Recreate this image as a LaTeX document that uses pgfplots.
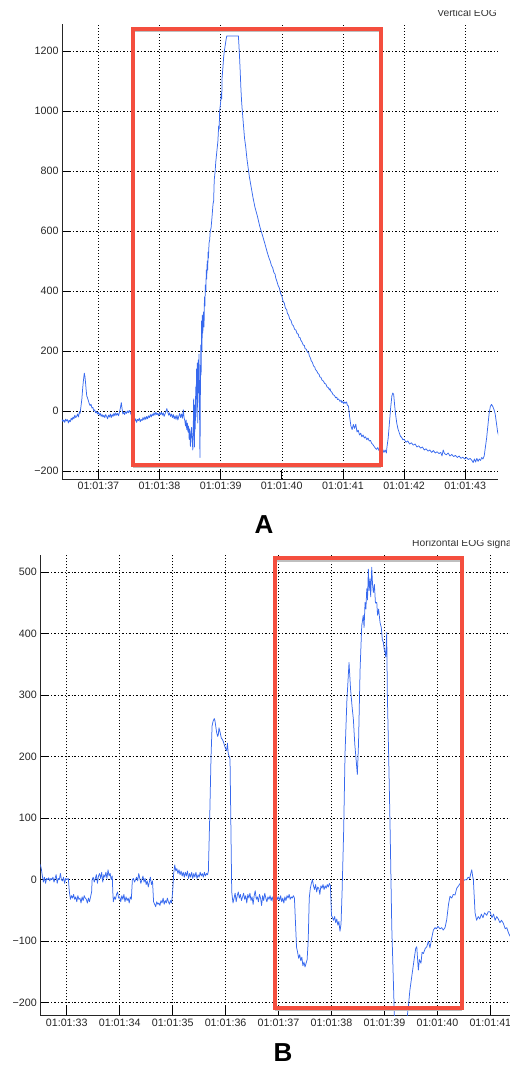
\documentclass[border=0pt]{standalone}
\usepackage{pgfplots}
\pgfplotsset{compat=1.18}
\usepackage{fontspec}
\setmainfont{Liberation Sans}
\definecolor{eogblue}{RGB}{55,105,238}
\definecolor{boxred}{RGB}{244,78,62}
\pgfplotsset{
 eog/.style={
  scale only axis,
  axis x line=bottom, axis y line=left,
  axis line style={black!85, line width=0.8pt, -},
  tick align=inside,
  major tick length=9pt,
  tick style={black, line width=0.7pt},
  xmajorgrids, ymajorgrids,
  x grid style={black, line width=0.55pt, dash pattern=on 0.8pt off 2.2pt},
  y grid style={black, line width=0.55pt, dash pattern=on 2pt off 2pt on 0.8pt off 2pt},
  tick label style={font=\fontsize{10.7}{12}\selectfont, text=black!85},
  /pgf/number format/assume math mode=true,
  clip mode=individual,
 },
 sig/.style={eogblue, line width=0.75pt, line join=round},
}
\begin{document}
\begin{tikzpicture}[x=1pt,y=1pt]
\useasboundingbox (0pt,0pt) rectangle (510pt,1066pt);
% ---------------- Panel A ----------------
\begin{axis}[eog,
  at={(62pt,587pt)}, anchor=south west,
  width=436pt, height=455pt,
  xmin=36.405, xmax=43.536, ymin=-226.7, ymax=1290,
  xtick={37,38,39,40,41,42,43},
  xticklabels={01:01:37,01:01:38,01:01:39,01:01:40,01:01:41,01:01:42,01:01:43},
  ytick={-200,0,200,400,600,800,1000,1200},
  yticklabels={−200,0,200,400,600,800,1000,1200},
]
\addplot[sig] table {
36.405 -28
36.42 -35
36.435 -30
36.45 -38
36.465 -27
36.48 -33
36.495 -29
36.51 -40
36.525 -31
36.54 -36
36.555 -24
36.57 -30
36.585 -20
36.60 -26
36.615 -14
36.63 -22
36.645 -18
36.66 -10
36.675 -20
36.69 -2
36.70 -8
36.715 15
36.73 40
36.745 80
36.76 110
36.77 126
36.78 115
36.79 95
36.80 70
36.81 50
36.82 45
36.835 35
36.85 25
36.865 18
36.88 22
36.895 10
36.91 12
36.925 0
36.94 4
36.955 -6
36.97 -2
36.985 -10
37.00 -4
37.015 -14
37.03 -8
37.045 -18
37.06 -12
37.075 -20
37.09 -14
37.105 -22
37.12 -12
37.135 -18
37.15 -26
37.165 -14
37.18 -20
37.195 -10
37.21 -22
37.225 -12
37.24 -18
37.255 -8
37.27 -16
37.285 -6
37.30 -14
37.315 -8
37.33 -16
37.345 -4
37.36 10
37.375 28
37.385 12
37.40 -10
37.415 -4
37.43 -12
37.445 -2
37.46 -8
37.475 0
37.49 -6
37.505 2
37.52 -4
37.535 -12
37.55 -20
37.565 -30
37.58 -22
37.595 -34
37.61 -26
37.625 -38
37.64 -28
37.655 -32
37.67 -24
37.685 -36
37.70 -28
37.715 -32
37.73 -22
37.745 -30
37.76 -20
37.775 -28
37.79 -18
37.805 -26
37.82 -16
37.835 -22
37.85 -12
37.865 -20
37.88 -10
37.895 -16
37.91 -6
37.925 -14
37.94 -4
37.955 -12
37.97 -8
37.985 -16
38.00 -6
38.015 -12
38.03 -4
38.045 -14
38.06 -6
38.075 -18
38.09 -10
38.105 -2
38.12 8
38.135 -4
38.15 -14
38.165 -6
38.18 -18
38.195 -10
38.21 -22
38.225 -12
38.24 -26
38.255 -16
38.27 -28
38.285 -14
38.30 -30
38.315 -18
38.33 -8
38.345 -22
38.36 -10
38.375 -24
38.39 4
38.40 -20
38.415 -34
38.425 -50
38.435 -30
38.445 -62
38.455 -40
38.465 -70
38.475 -50
38.485 -95
38.495 -60
38.505 -118
38.515 -80
38.525 -55
38.535 -100
38.545 -130
38.552 -60
38.558 40
38.565 -40
38.572 -120
38.578 20
38.585 -60
38.592 80
38.598 -20
38.605 140
38.612 40
38.618 160
38.625 -40
38.632 170
38.638 60
38.645 190
38.652 100
38.658 -100
38.662 -155
38.668 50
38.675 220
38.68 120
38.688 300
38.695 200
38.70 320
38.708 260
38.715 310
38.72 330
38.728 280
38.735 380
38.742 350
38.75 420
38.758 400
38.765 470
38.772 440
38.78 500
38.788 470
38.795 530
38.80 510
38.81 560
38.82 570
38.83 600
38.843 610
38.86 650
38.875 690
38.885 700
38.895 770
38.91 800
38.92 830
38.94 870
38.955 900
38.967 950
38.975 940
38.984 1000
39.00 1030
39.01 1060
39.018 1040
39.023 1110
39.035 1140
39.049 1180
39.06 1200
39.077 1222
39.09 1240
39.10 1250
39.29 1250
39.30 1215
39.31 1175
39.32 1130
39.33 1080
39.34 1040
39.35 1010
39.37 960
39.39 910
39.41 880
39.43 840
39.45 810
39.47 780
39.50 745
39.53 710
39.56 680
39.60 650
39.64 615
39.68 588
39.72 560
39.76 530
39.79 510
39.81 500
39.83 485
39.85 478
39.87 462
39.89 456
39.90 444
39.92 432
39.94 418
39.96 410
39.98 392
40.00 384
40.02 366
40.04 360
40.06 342
40.08 338
40.09 326
40.11 320
40.13 306
40.15 302
40.17 288
40.19 284
40.21 272
40.23 270
40.25 258
40.27 256
40.28 246
40.30 244
40.31 236
40.33 230
40.35 220
40.37 218
40.38 208
40.40 206
40.42 196
40.44 194
40.45 184
40.47 176
40.48 168
40.50 162
40.52 150
40.54 146
40.55 138
40.57 134
40.59 126
40.61 122
40.62 114
40.64 112
40.66 102
40.68 100
40.70 92
40.72 90
40.74 80
40.76 78
40.78 70
40.79 74
40.80 66
40.82 62
40.84 54
40.86 52
40.88 44
40.90 46
40.91 38
40.93 40
40.95 32
40.97 36
40.98 28
41.00 32
41.01 24
41.03 30
41.04 26
41.06 30
41.07 20
41.09 16
41.11 -20
41.13 -50
41.15 -62
41.17 -45
41.19 -58
41.21 -44
41.23 -70
41.25 -64
41.27 -80
41.29 -74
41.31 -86
41.33 -80
41.35 -90
41.37 -86
41.39 -96
41.41 -90
41.43 -100
41.45 -98
41.47 -108
41.49 -112
41.51 -118
41.53 -124
41.55 -128
41.57 -122
41.59 -132
41.61 -126
41.63 -136
41.65 -128
41.67 -138
41.69 -130
41.71 -140
41.72 -120
41.74 -90
41.76 -40
41.78 10
41.80 50
41.815 60
41.83 55
41.845 20
41.86 -10
41.88 -40
41.90 -60
41.92 -72
41.94 -84
41.96 -88
41.98 -96
42.00 -94
42.03 -104
42.06 -100
42.09 -110
42.12 -106
42.15 -114
42.18 -110
42.21 -120
42.24 -116
42.27 -124
42.30 -120
42.33 -130
42.36 -126
42.39 -134
42.42 -130
42.45 -138
42.48 -132
42.51 -140
42.54 -136
42.57 -142
42.60 -138
42.62 -150
42.64 -130
42.66 -142
42.69 -146
42.72 -140
42.75 -150
42.78 -145
42.81 -152
42.84 -148
42.87 -155
42.90 -150
42.93 -158
42.96 -154
42.99 -160
43.02 -155
43.05 -162
43.08 -158
43.11 -165
43.13 -172
43.15 -160
43.17 -170
43.19 -158
43.21 -168
43.23 -160
43.25 -165
43.27 -155
43.29 -160
43.31 -150
43.33 -120
43.35 -90
43.37 -50
43.39 -10
43.41 15
43.43 22
43.45 15
43.47 5
43.49 -10
43.51 -40
43.53 -70
43.55 -85
};
\draw[black!25, line width=2pt] ([yshift=-2.5pt]axis cs:37.574,-180) -- ([yshift=-2.5pt]axis cs:41.618,-180);
\draw[black!25, line width=2pt] ([yshift=-2.5pt]axis cs:37.574,1274.3) -- ([yshift=-2.5pt]axis cs:41.618,1274.3);
\draw[boxred, line width=4pt] (axis cs:37.574,-180) rectangle (axis cs:41.618,1274.3);
\end{axis}
\begin{scope}
\clip (380pt,1043pt) rectangle (510pt,1055pt);
\node[anchor=base east, inner sep=0, font=\fontsize{10.3}{12}\selectfont, text=black!80] at (497pt,1049.5pt) {Vertical EOG};
\end{scope}
\node[inner sep=0, font=\fontsize{26}{30}\selectfont\bfseries] at (264pt,541.5pt) {A};
% ---------------- Panel B ----------------
\begin{axis}[eog,
  at={(40.3pt,50.7pt)}, anchor=south west,
  width=469.7pt, height=460.3pt,
  xmin=32.501, xmax=41.371, ymin=-220.6, ymax=528,
  xtick={33,34,35,36,37,38,39,40,41},
  xticklabels={01:01:33,01:01:34,01:01:35,01:01:36,01:01:37,01:01:38,01:01:39,01:01:40,01:01:41},
  ytick={-200,-100,0,100,200,300,400,500},
  yticklabels={−200,−100,0,100,200,300,400,500},
]
\addplot[sig] table {
32.50 25
32.52 18
32.54 6
32.56 -4
32.58 4
32.60 -6
32.62 2
32.64 0
32.66 3
32.68 -2
32.70 2
32.72 0
32.74 4
32.76 -4
32.78 2
32.80 8
32.82 -6
32.84 2
32.86 0
32.88 10
32.90 0
32.92 -2
32.94 4
32.96 -6
32.98 2
33.00 0
33.03 2
33.05 -20
33.07 -32
33.09 -26
33.11 -30
33.13 -24
33.15 -32
33.17 -28
33.19 -36
33.21 -26
33.23 -32
33.25 -30
33.27 -38
33.29 -28
33.31 -34
33.33 -26
33.35 -30
33.37 -32
33.39 -38
33.41 -30
33.43 -36
33.45 -28
33.47 -20
33.48 0
33.50 4
33.52 -4
33.54 2
33.56 8
33.58 -6
33.60 6
33.62 10
33.64 2
33.66 12
33.68 -4
33.70 8
33.72 4
33.74 12
33.76 2
33.78 16
33.80 6
33.82 10
33.84 0
33.86 6
33.87 -20
33.88 -36
33.90 -28
33.92 -32
33.94 -24
33.96 -20
33.98 -30
34.00 -28
34.02 -36
34.04 -26
34.06 -32
34.08 -24
34.10 -36
34.12 -28
34.14 -34
34.16 -30
34.18 -38
34.20 -28
34.22 -32
34.24 0
34.26 2
34.28 -4
34.30 0
34.32 4
34.34 -2
34.36 10
34.38 2
34.40 -6
34.42 0
34.44 6
34.46 -4
34.48 2
34.50 -8
34.52 -2
34.54 -12
34.56 -4
34.58 4
34.60 -8
34.62 -2
34.64 -36
34.66 -40
34.68 -44
34.70 -36
34.72 -40
34.74 -38
34.76 -42
34.78 -34
34.80 -38
34.82 -30
34.84 -40
34.86 -34
34.88 -38
34.90 -30
34.92 -36
34.94 -40
34.96 -34
34.98 -38
35.00 -20
35.02 10
35.04 24
35.06 14
35.08 18
35.10 10
35.12 16
35.14 8
35.16 14
35.18 6
35.20 12
35.22 4
35.24 12
35.26 6
35.28 14
35.30 2
35.32 10
35.34 4
35.36 12
35.38 2
35.40 10
35.42 4
35.44 12
35.46 2
35.48 8
35.50 4
35.52 12
35.54 6
35.56 10
35.58 4
35.60 12
35.62 6
35.64 10
35.66 8
35.675 14
35.70 100
35.725 200
35.745 250
35.765 258
35.788 262
35.80 258
35.83 240
35.85 233
35.863 236
35.875 247
35.895 240
35.92 230
35.94 228
35.96 224
35.98 218
36.00 213
36.02 210
36.035 222
36.05 205
36.07 200
36.084 196
36.116 -20
36.14 -38
36.16 -30
36.18 -22
36.20 -36
36.22 -26
36.24 -20
36.26 -30
36.28 -24
36.30 -34
36.32 -28
36.34 -22
36.36 -32
36.38 -26
36.40 -38
36.42 -24
36.44 -30
36.46 -22
36.48 -34
36.50 -28
36.52 -40
36.54 -26
36.56 -18
36.58 -32
36.60 -28
36.62 -36
36.64 -24
36.66 -30
36.68 -42
36.70 -26
36.72 -34
36.74 -22
36.76 -30
36.78 -36
36.80 -28
36.82 -32
36.84 -26
36.86 -34
36.88 -28
36.90 -36
36.92 -30
36.94 -38
36.96 -26
36.98 -32
37.00 -28
37.02 -34
37.04 -26
37.06 -36
37.08 -30
37.10 -38
37.12 -28
37.14 -34
37.16 -26
37.18 -30
37.20 -24
37.22 -32
37.24 -28
37.26 -30
37.28 -26
37.30 -30
37.32 -70
37.34 -110
37.36 -118
37.38 -128
37.40 -122
37.42 -132
37.44 -126
37.46 -140
37.48 -134
37.50 -142
37.52 -136
37.54 -130
37.56 -100
37.58 -30
37.60 -14
37.62 -6
37.64 0
37.66 -10
37.68 -16
37.70 -8
37.72 -20
37.74 -12
37.76 -14
37.78 -24
37.80 -10
37.82 -14
37.84 -8
37.86 -16
37.88 -10
37.90 -14
37.92 -8
37.94 -12
37.96 -6
37.98 -10
38.00 -58
38.02 -62
38.04 -66
38.06 -60
38.08 -70
38.10 -64
38.12 -74
38.14 -68
38.16 -84
38.18 -72
38.20 -20
38.23 80
38.256 206
38.29 290
38.331 353
38.36 310
38.39 280
38.413 261
38.44 220
38.47 190
38.488 171
38.51 220
38.54 342
38.571 413
38.60 430
38.615 410
38.634 451
38.65 440
38.666 473
38.68 455
38.696 505
38.71 470
38.728 489
38.74 460
38.76 508
38.775 480
38.79 467
38.81 480
38.83 450
38.855 451
38.87 430
38.89 440
38.917 418
38.94 410
38.96 390
38.979 386
38.995 375
39.011 370
39.025 362
39.043 402
39.055 300
39.08 200
39.106 87
39.138 -76
39.187 -220
39.30 -320
39.451 -207
39.48 -180
39.515 -158
39.56 -130
39.59 -112
39.610 -109
39.64 -147
39.66 -130
39.69 -136
39.71 -118
39.735 -120
39.77 -112
39.80 -109
39.83 -100
39.86 -111
39.89 -96
39.924 -82
39.956 -78
39.98 -80
40.01 -76
40.05 -80
40.08 -78
40.11 -82
40.144 -78
40.176 -65
40.21 -40
40.238 -27
40.27 -30
40.30 -24
40.333 -25
40.365 -14
40.40 -10
40.43 -6
40.46 -8
40.49 -2
40.52 0
40.554 0
40.58 4
40.61 2
40.63 10
40.649 16
40.665 6
40.679 0
40.711 -54
40.74 -66
40.773 -60
40.80 -64
40.83 -56
40.86 -62
40.89 -54
40.932 -58
40.96 -52
40.994 -52
41.03 -62
41.06 -56
41.09 -66
41.121 -60
41.15 -64
41.18 -70
41.21 -66
41.245 -71
41.28 -80
41.31 -78
41.34 -86
41.371 -92
};
\draw[black!25, line width=2pt] ([yshift=-2.5pt]axis cs:36.926,-208.2) -- ([yshift=-2.5pt]axis cs:40.459,-208.2);
\draw[black!25, line width=2pt] ([yshift=-2.5pt]axis cs:36.926,522.5) -- ([yshift=-2.5pt]axis cs:40.459,522.5);
\draw[boxred, line width=4pt] (axis cs:36.926,-208.2) rectangle (axis cs:40.459,522.5);
\end{axis}
\begin{scope}
\clip (400pt,516pt) rectangle (510pt,525.5pt);
\node[anchor=base west, inner sep=0, font=\fontsize{10.3}{12}\selectfont, text=black!80] at (412pt,519.5pt) {Horizontal EOG signal};
\end{scope}
\node[inner sep=0, font=\fontsize{26}{30}\selectfont\bfseries] at (283pt,13pt) {B};
\end{tikzpicture}
\end{document}
